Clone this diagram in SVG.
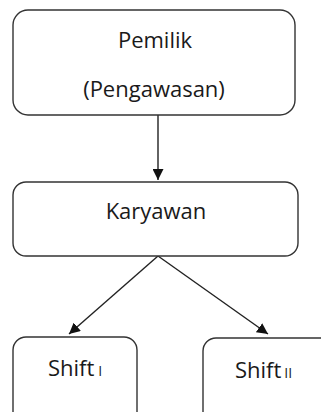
<svg xmlns="http://www.w3.org/2000/svg" width="321" height="412" viewBox="0 0 321 412">
<style>
.box{fill:#fff;stroke:#333;stroke-width:1.4}
.t{font-family:"Open Sans","Liberation Sans",sans-serif;font-size:22px;fill:#1a1a1a}
.s{font-size:14px}
.c{stroke:#222;stroke-width:1.4;fill:none}
</style>
<defs>
<marker id="ah" viewBox="0 0 10 10" refX="10" refY="5" markerWidth="11" markerHeight="11" markerUnits="userSpaceOnUse" orient="auto">
<path d="M0,0 L10,5 L0,10 z" fill="#111"/>
</marker>
</defs>
<rect width="321" height="412" fill="#fff"/>
<g id="connectors">
<line class="c" x1="158" y1="115" x2="158" y2="180" marker-end="url(#ah)"/>
<line class="c" x1="158" y1="256" x2="69" y2="334" marker-end="url(#ah)"/>
<line class="c" x1="158" y1="256" x2="268" y2="334" marker-end="url(#ah)"/>
</g>
<g id="pemilik">
<rect class="box" x="13" y="10" width="282" height="105" rx="15"/>
<text class="t" x="155" y="48" text-anchor="middle">Pemilik</text>
<text class="t" x="154" y="97" text-anchor="middle">(Pengawasan)</text>
</g>
<g id="karyawan">
<rect class="box" x="13" y="182" width="285" height="74" rx="13"/>
<text class="t" x="156" y="219" text-anchor="middle">Karyawan</text>
</g>
<g id="shift1">
<rect class="box" x="13" y="337" width="124" height="90" rx="13"/>
<text class="t" x="48" y="376">Shift<tspan class="s" dx="4">I</tspan></text>
</g>
<g id="shift2">
<rect class="box" x="203" y="338" width="130" height="90" rx="13"/>
<text class="t" x="235" y="378">Shift<tspan class="s" dx="3">II</tspan></text>
</g>
</svg>
